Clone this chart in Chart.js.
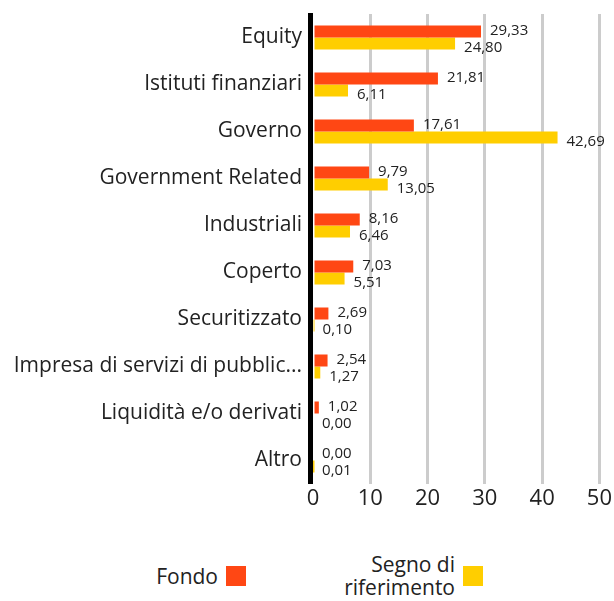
<!DOCTYPE html>
<html>
<head>
<meta charset="utf-8">
<script src="https://cdn.jsdelivr.net/npm/chart.js@4.4.1/dist/chart.umd.min.js"></script>
<style>
html,body{margin:0;padding:0;background:#fff;}
#wrap{position:relative;width:614px;height:601px;font-family:"Open Sans",sans-serif;color:#222;}
#c{position:absolute;left:0;top:0;}
.lg{position:absolute;font-size:21px;line-height:23px;color:#222;text-align:right;}
.sw{position:absolute;width:20px;height:20px;}
</style>
</head>
<body>
<div id="wrap">
<canvas id="c" width="614" height="520"></canvas>
<div class="lg" id="l1" style="right:396px;top:565px;">Fondo</div>
<div class="sw" style="left:226px;top:566px;background:#FF4714;"></div>
<div class="lg" id="l2" style="right:159px;top:553px;">Segno di<br>riferimento</div>
<div class="sw" style="left:463px;top:566px;background:#FFCE00;"></div>
</div>
<script>
const categories = ["Equity","Istituti finanziari","Governo","Government Related","Industriali","Coperto","Securitizzato","Impresa di servizi di pubblica utilità","Liquidità e/o derivati","Altro"];
const fondo = [29.33,21.81,17.61,9.79,8.16,7.03,2.69,2.54,1.02,0.00];
const benchmark = [24.80,6.11,42.69,13.05,6.46,5.51,0.10,1.27,0.00,0.01];
const xTicks = [0,10,20,30,40,50];
const seriesNames = ["Fondo","Segno di riferimento"];
const colors = ["#FF4714","#FFCE00"];

const fmt = v => v.toFixed(2).replace('.', ',');

const valueLabels = {
  id:'valueLabels',
  afterDatasetsDraw(chart){
    const ctx = chart.ctx;
    const a = chart.chartArea;
    ctx.save();
    // black category axis drawn on top, just left of the plot area
    ctx.fillStyle = '#000';
    ctx.fillRect(a.left - 5, a.top - 1, 5, a.bottom - a.top + 1);
    ctx.font = '15px "Open Sans", sans-serif';
    ctx.fillStyle = '#222';
    ctx.textBaseline = 'middle';
    ctx.textAlign = 'left';
    chart.data.datasets.forEach((ds, di) => {
      const meta = chart.getDatasetMeta(di);
      meta.data.forEach((bar, i) => {
        const dy = di === 0 ? -1 : 4;
        ctx.fillText(fmt(ds.data[i]), bar.x + 9, bar.y + dy);
      });
    });
    ctx.restore();
  }
};

new Chart(document.getElementById('c'), {
  type:'bar',
  data:{
    labels: categories,
    datasets:[
      {label:seriesNames[0], data:fondo, backgroundColor:colors[0], categoryPercentage:0.51, barPercentage:1},
      {label:seriesNames[1], data:benchmark, backgroundColor:colors[1], categoryPercentage:0.51, barPercentage:1}
    ]
  },
  options:{
    indexAxis:'y',
    responsive:false,
    animation:false,
    layout:{padding:{top:14,right:12,left:0,bottom:0}},
    plugins:{legend:{display:false},tooltip:{enabled:false}},
    scales:{
      x:{
        min:0,max:50,
        afterBuildTicks(s){ s.ticks = xTicks.map(v=>({value:v})); },
        afterFit(s){ s.height = 36; s.paddingTop = 0; s.paddingBottom = 0; },
        grid:{color:(c)=> c.tick && c.tick.value===0 ? 'rgba(0,0,0,0)' : '#cccccc', lineWidth:3, drawTicks:false},
        border:{display:false},
        ticks:{color:'#222', font:{size:22, family:'"Open Sans", sans-serif'}, padding:2, maxRotation:0}
      },
      y:{
        afterFit(s){ s.width = 313; s.paddingTop = 0; s.paddingBottom = 0; },
        grid:{display:false, drawTicks:false},
        border:{display:false},
        ticks:{color:'#222', padding:11, font:{size:21, family:'"Open Sans", sans-serif'},
          callback(v){ const l = this.getLabelForValue(v); return l.length>29 ? l.slice(0,29)+'...' : l; }}
      }
    }
  },
  plugins:[valueLabels]
});
</script>
</body>
</html>
